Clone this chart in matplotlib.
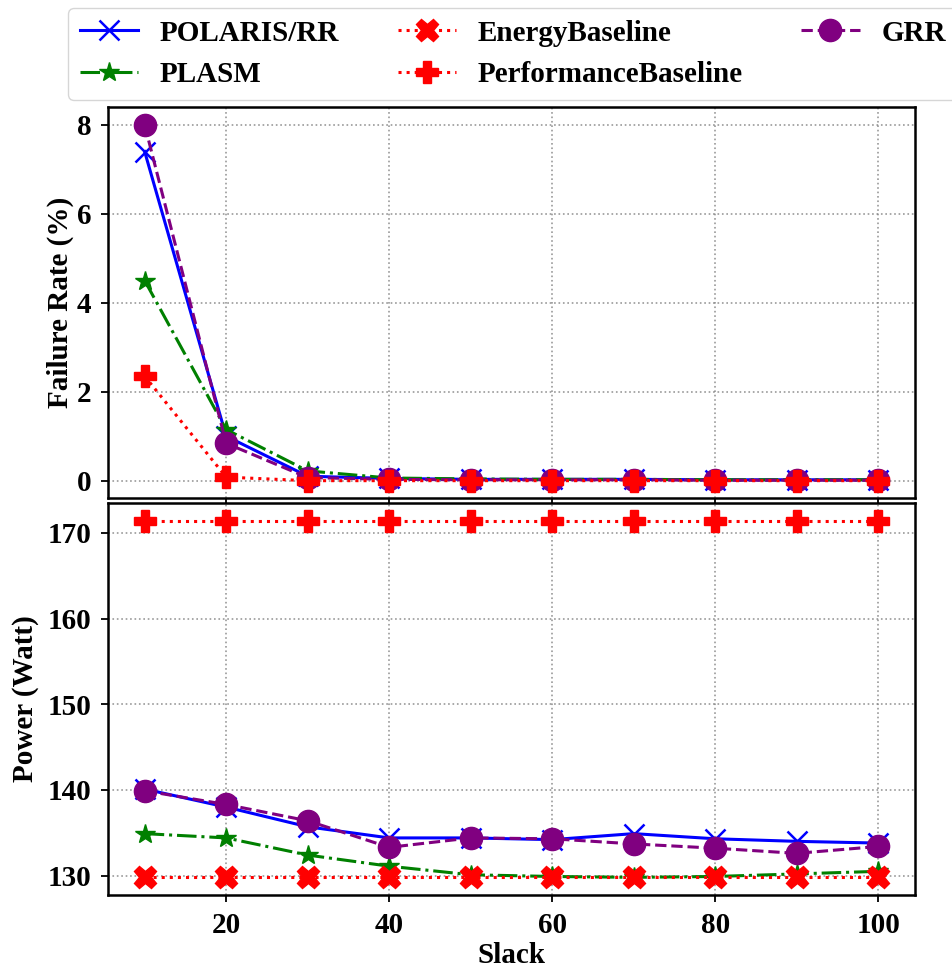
import numpy as np
import matplotlib.pyplot as plt

plt.rcParams['font.family'] = 'Liberation Serif'
plt.rcParams['font.weight'] = 'bold'
plt.rcParams['font.size'] = 21

slack = [10, 20, 30, 40, 50, 60, 70, 80, 90, 100]

# failure rate (%)
fail_polaris = [7.4, 1.0, 0.1, 0.05, 0.03, 0.03, 0.03, 0.02, 0.02, 0.02]
fail_plasm = [4.5, 1.15, 0.22, 0.06, 0.04, 0.03, 0.03, 0.02, 0.02, 0.02]
fail_perf = [2.35, 0.08, 0.0, 0.0, 0.0, 0.0, 0.0, 0.0, 0.0, 0.0]
fail_grr = [8.0, 0.84, 0.07, 0.03, 0.02, 0.02, 0.02, 0.01, 0.01, 0.01]

# power (Watt)
pow_polaris = [140.1, 138.0, 135.7, 134.4, 134.4, 134.2, 134.9, 134.3, 134.0, 133.8]
pow_plasm = [134.9, 134.4, 132.4, 131.1, 130.1, 129.9, 129.8, 129.9, 130.2, 130.5]
pow_energy = [129.8, 129.8, 129.8, 129.8, 129.8, 129.8, 129.8, 129.8, 129.8, 129.8]
pow_perf = [171.4, 171.4, 171.4, 171.4, 171.4, 171.4, 171.4, 171.4, 171.4, 171.4]
pow_grr = [139.9, 138.3, 136.4, 133.3, 134.4, 134.3, 133.7, 133.2, 132.6, 133.4]

styles = {
    'POLARIS/RR': dict(color='blue', ls='-', marker='x', ms=15, mew=1.8, zorder=3),
    'PLASM': dict(color='green', ls='-.', marker='*', ms=15, zorder=4),
    'EnergyBaseline': dict(color='red', ls=':', marker='X', ms=16, zorder=6),
    'PerformanceBaseline': dict(color='red', ls=':', marker='P', ms=16, zorder=7),
    'GRR': dict(color='purple', ls='--', marker='o', ms=16, zorder=5),
}

fig = plt.figure(figsize=(9.53, 9.73), dpi=100)
ax1 = fig.add_axes([0.1133, 0.4877, 0.8467, 0.4023])
ax2 = fig.add_axes([0.1133, 0.0800, 0.8467, 0.4030], sharex=ax1)

def draw(ax, series):
    h = {}
    for name, vals in series.items():
        h[name] = ax.plot(slack, vals, lw=2.2, label=name, **styles[name])[0]
    ax.grid(True, ls=':', color='gray', lw=1.2, alpha=0.8)
    for s in ax.spines.values():
        s.set_linewidth(1.8)
    ax.tick_params(width=1.3, length=5, pad=7)
    return h

draw(ax1, {'POLARIS/RR': fail_polaris, 'PLASM': fail_plasm,
           'PerformanceBaseline': fail_perf, 'GRR': fail_grr})
h = draw(ax2, {'POLARIS/RR': pow_polaris, 'PLASM': pow_plasm,
               'EnergyBaseline': pow_energy, 'PerformanceBaseline': pow_perf,
               'GRR': pow_grr})

ax1.set_yticks([0, 2, 4, 6, 8])
ax1.tick_params(axis='x', labelbottom=False)
ax1.set_ylabel('Failure Rate (%)', fontweight='bold', labelpad=2)
ax2.set_yticks([130, 140, 150, 160, 170])
ax2.set_xticks([20, 40, 60, 80, 100])
ax2.set_ylabel('Power (Watt)', fontweight='bold', labelpad=6)
ax2.set_xlabel('Slack', fontweight='bold', labelpad=2)

order = ['POLARIS/RR', 'PLASM', 'EnergyBaseline', 'PerformanceBaseline', 'GRR']
fig.legend(handles=[h[k] for k in order], loc='upper left', ncol=3,
           bbox_to_anchor=(68 / 953, 1 - 8 / 973), borderaxespad=0,
           frameon=True, columnspacing=2.0, handlelength=2.0,
           handletextpad=0.75, fontsize=21)

fig.savefig('out.png', dpi=100)
